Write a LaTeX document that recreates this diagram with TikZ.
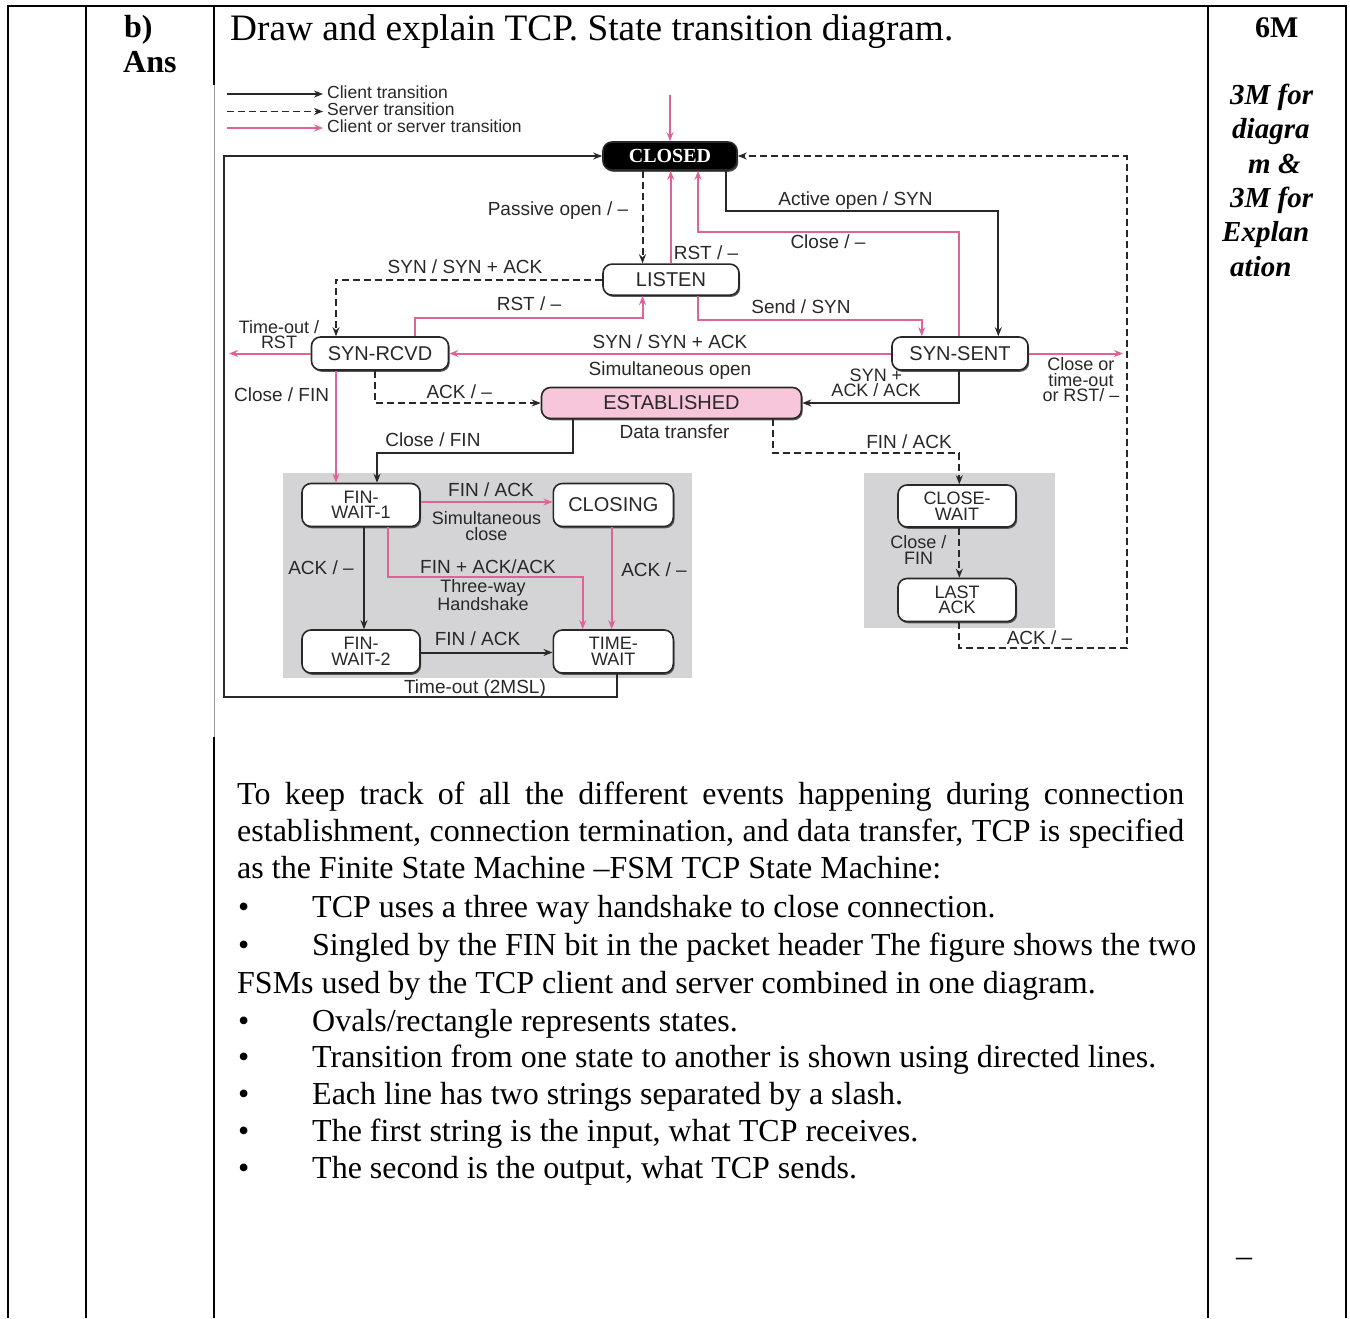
\documentclass[tikz,border=0pt]{standalone}
\usepackage{fontspec}
\setmainfont{Liberation Serif}
\newfontfamily\dsans{Liberation Sans}
\usetikzlibrary{arrows.meta,shadows}
\definecolor{pinkline}{RGB}{222,100,152}
\definecolor{estfill}{RGB}{247,198,218}
\definecolor{panel}{RGB}{212,212,214}
\definecolor{ink}{RGB}{40,40,40}

\begin{document}
\begin{tikzpicture}[x=1pt,y=-1pt,
  state/.style={draw=ink, line width=1.6pt, rounded corners=9pt, fill=white,
    inner sep=0pt, text=ink,
    drop shadow={shadow xshift=1.2pt, shadow yshift=-1.8pt, fill=black!65, opacity=1},
    font=\dsans\fontsize{20}{20}\selectfont},
  state2/.style={state, font=\dsans\fontsize{18}{15.5}\selectfont, align=center},
  lbl/.style={inner sep=0pt, text=ink, font=\dsans\fontsize{19}{15}\selectfont, anchor=base},
  lbl2/.style={lbl, font=\dsans\fontsize{18}{15.5}\selectfont, align=center},
  legend/.style={lbl, anchor=base west, font=\dsans\fontsize{17.5}{16}\selectfont},
  tip/.style={-{Stealth[length=9pt,width=7pt]}},
  client/.style={draw=ink, line width=2pt, tip},
  server/.style={client, dash pattern=on 7pt off 4pt},
  either/.style={draw=pinkline, line width=2pt, tip},
  rule/.style={line width=2pt, draw=black},
  doc/.style={inner sep=0pt, anchor=base west, font=\fontsize{32}{37}\selectfont},
  bolddoc/.style={doc, font=\bfseries\fontsize{32}{32}\selectfont},
  marks/.style={doc, font=\bfseries\itshape\fontsize{29}{34}\selectfont},
]
\useasboundingbox (0,0) rectangle (1350,1318);

% ---------- table rules ----------
\draw[rule] (7,6) -- (1347,6);
\draw[rule] (8,6) -- (8,1318);
\draw[rule] (86,6) -- (86,1318);
\draw[rule] (214,6) -- (214,85);
\draw[black!40, line width=0.8pt] (214,85) -- (214,737);
\draw[rule] (214,737) -- (214,1318);
\draw[rule] (1208,6) -- (1208,1318);
\draw[rule] (1346,6) -- (1346,1318);

% ---------- table text ----------
\node[bolddoc] (qno) at (124,37) {b)};
\node[bolddoc] (ans) at (123,72) {Ans};
\node[doc, font=\fontsize{37.3}{40}\selectfont] (title) at (230,40)
  {Draw and explain TCP. State transition diagram.};
\node[doc, font=\bfseries\fontsize{30}{30}\selectfont] (total) at (1255,37) {6M};
\node[marks] (m1) at (1230,104.5) {3M for};
\node[marks] (m2) at (1232,138.8) {diagra};
\node[marks] (m3) at (1248,173.1) {m \&};
\node[marks] (m4) at (1230,207.4) {3M for};
\node[marks] (m5) at (1222,241.7) {Explan};
\node[marks] (m6) at (1230,276) {ation};
\node[doc] (dash) at (1236,1266) {–};

\node[doc] (p1) at (237,804) {\makebox[947pt][s]{To keep track of all the different events happening during connection}};
\node[doc] (p2) at (237,841) {\makebox[947pt][s]{establishment, connection termination, and data transfer, TCP is specified}};
\node[doc] (p3) at (237,878) {as the Finite State Machine –FSM TCP State Machine:};
\node[doc] (b1) at (238,917) {•};
\node[doc] (t1) at (312,917) {TCP uses a three way handshake to close connection.};
\node[doc] (b2) at (238,955) {•};
\node[doc] (t2) at (312,955) {\makebox[884pt][s]{Singled by the FIN bit in the packet header The figure shows the two}};
\node[doc] (p4) at (237,993) {FSMs used by the TCP client and server combined in one diagram.};
\node[doc] (b3) at (238,1031) {•};
\node[doc] (t3) at (312,1031) {Ovals/rectangle represents states.};
\node[doc] (b4) at (238,1067) {•};
\node[doc] (t4) at (312,1067) {Transition from one state to another is shown using directed lines.};
\node[doc] (b5) at (238,1104) {•};
\node[doc] (t5) at (312,1104) {Each line has two strings separated by a slash.};
\node[doc] (b6) at (238,1141) {•};
\node[doc] (t6) at (312,1141) {The first string is the input, what TCP receives.};
\node[doc] (b7) at (238,1178) {•};
\node[doc] (t7) at (312,1178) {The second is the output, what TCP sends.};

% ---------- state diagram ----------
% shaded groups
\fill[panel] (283,472.7) rectangle (691.7,678.3);
\fill[panel] (864,472.7) rectangle (1055,628.3);

% legend
\coordinate (lga) at (227,94);   \coordinate (lgb) at (323,94);
\coordinate (lgc) at (227,111.5); \coordinate (lgd) at (323,111.5);
\coordinate (lge) at (227,128);  \coordinate (lgf) at (323,128);
\draw[client, line width=1.6pt] (lga) -- (lgb);
\draw[server, line width=1.6pt] (lgc) -- (lgd);
\draw[either, line width=1.6pt] (lge) -- (lgf);
\node[legend] (lg1) at (327,98) {Client transition};
\node[legend] (lg2) at (327,115.5) {Server transition};
\node[legend] (lg3) at (327,132.5) {Client or server transition};

% states
\node[state, fill=black, text=white, font=\bfseries\fontsize{20}{20}\selectfont,
  minimum width=134pt, minimum height=28pt] (closed) at (670,156) {CLOSED};
\node[state, minimum width=136pt, minimum height=31pt] (listen) at (671,279.6) {LISTEN};
\node[state, minimum width=137pt, minimum height=33pt] (synrcvd) at (380,353.5) {SYN-RCVD};
\node[state, minimum width=136pt, minimum height=33pt] (synsent) at (960,353.5) {SYN-SENT};
\node[state, fill=estfill, minimum width=260pt, minimum height=31pt] (estab) at (671.5,403) {ESTABLISHED};
\node[state2, minimum width=118pt, minimum height=43pt] (fw1) at (361,505) {FIN-\\WAIT-1};
\node[state, minimum width=120pt, minimum height=43pt] (closing) at (613.3,505) {CLOSING};
\node[state2, minimum width=118pt, minimum height=43pt] (fw2) at (361,651.5) {FIN-\\WAIT-2};
\node[state2, minimum width=120pt, minimum height=43pt] (timewait) at (613.3,651.5) {TIME-\\WAIT};
\node[state2, minimum width=118pt, minimum height=42pt] (closewait) at (957,506) {CLOSE-\\WAIT};
\node[state2, minimum width=118pt, minimum height=43pt] (lastack) at (957,600) {LAST\\ACK};

% free ends
\coordinate (entry) at (670,95);
\coordinate (toutend) at (229,353.5);
\coordinate (ctoend) at (1123,353.5);

% transitions
\draw[either] (entry) -- (closed);
\draw[client] (616.7,0 |- timewait.south) |- (224,697.3) |- (closed.west);
\draw[server] (959.3,0 |- lastack.south) |- (1126.7,648.3) |- (closed.east);
\draw[server] (642.5,0 |- closed.south) -- (642.5,0 |- listen.north);
\draw[either] (670.7,0 |- listen.north) -- (670.7,0 |- closed.south);
\draw[either] (959.3,0 |- synsent.north) |- (698,231.5) -- (698,0 |- closed.south);
\draw[client] (726.4,0 |- closed.south) |- (998.3,211) -- (998.3,0 |- synsent.north);
\draw[server] (listen.west) -| (336,0 |- synrcvd.north);
\draw[either] (414.6,0 |- synrcvd.north) |- (642.5,318) -- (642.5,0 |- listen.south);
\draw[either] (698,0 |- listen.south) |- (921.7,320) -- (921.7,0 |- synsent.north);
\draw[either] (synsent.west) -- (synrcvd.east);
\draw[either] (synrcvd.west) -- (toutend);
\draw[either] (synsent.east) -- (ctoend);
\draw[either] (336,0 |- synrcvd.south) -- (336,0 |- fw1.north);
\draw[server] (375.4,0 |- synrcvd.south) |- (estab.west);
\draw[client] (959.3,0 |- synsent.south) |- (estab.east);
\draw[client] (572.9,0 |- estab.south) |- (377,452.7) -- (377,0 |- fw1.north);
\draw[server] (773.3,0 |- estab.south) |- (959.3,453.3) -- (959.3,0 |- closewait.north);
\draw[either] ([yshift=3pt]fw1.east) -- ([yshift=3pt]closing.west);
\draw[client] (364,0 |- fw1.south) -- (364,0 |- fw2.north);
\draw[either] (388.3,0 |- fw1.south) |- (582.7,577.3) -- (582.7,0 |- timewait.north);
\draw[either] (611.7,0 |- closing.south) -- (611.7,0 |- timewait.north);
\draw[client] ([yshift=-1pt]fw2.east) -- ([yshift=-1pt]timewait.west);
\draw[server] (959.3,0 |- closewait.south) -- (959.3,0 |- lastack.north);

% transition labels (multi-line labels are placed by their last baseline)
\node[lbl] (l1) at (558,215) {Passive open / –};
\node[lbl] (l2) at (706,259) {RST / –};
\node[lbl] (l3) at (855.5,205) {Active open / SYN};
\node[lbl] (l4) at (828,248) {Close / –};
\node[lbl] (l5) at (465,273) {SYN / SYN + ACK};
\node[lbl] (l6) at (529,310) {RST / –};
\node[lbl] (l7) at (801,313) {Send / SYN};
\node[lbl2] (l8) at (279,348.5) {Time-out /\\RST};
\node[lbl] (l9) at (670,348.3) {SYN / SYN + ACK};
\node[lbl] (l10) at (670,375) {Simultaneous open};
\node[lbl2] (l11) at (1081,401.7) {Close or\\time-out\\or RST/ –};
\node[lbl2] (l12) at (876,396.7) {SYN +\\ACK / ACK};
\node[lbl] (l13) at (281.6,401.7) {Close / FIN};
\node[lbl] (l14) at (459.3,398.3) {ACK / –};
\node[lbl] (l15) at (674.5,438) {Data transfer};
\node[lbl] (l16) at (433,446.7) {Close / FIN};
\node[lbl] (l17) at (909,448.3) {FIN / ACK};
\node[lbl] (l18) at (491,496.7) {FIN / ACK};
\node[lbl2] (l19) at (486.5,540) {Simultaneous\\close};
\node[lbl] (l20) at (321,574) {ACK / –};
\node[lbl] (l21) at (488,573) {FIN + ACK/ACK};
\node[lbl2] (l22) at (483,610.5) {Three-way\\Handshake};
\node[lbl] (l23) at (654,576.7) {ACK / –};
\node[lbl] (l24) at (477.5,645) {FIN / ACK};
\node[lbl] (l25) at (475,693) {Time-out (2MSL)};
\node[lbl2] (l26) at (918.5,564) {Close /\\FIN};
\node[lbl] (l27) at (1039.5,644) {ACK / –};
\end{tikzpicture}
\end{document}
